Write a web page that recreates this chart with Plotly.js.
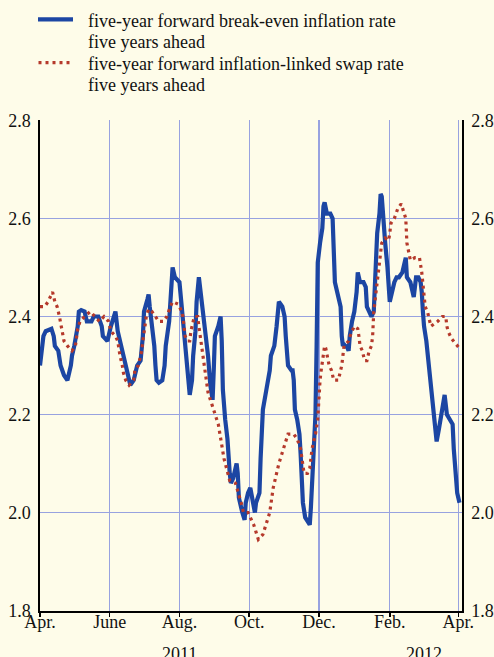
<!DOCTYPE html>
<html>
<head>
<meta charset="utf-8">
<script src="https://cdn.plot.ly/plotly-3.0.1.min.js"></script>
<style>
  html, body { margin: 0; padding: 0; background: #fefce9; }
  #chart { width: 494px; height: 657px; }
</style>
</head>
<body>
<div id="chart"></div>
<script>
// ---- data ----
const breakEvenDates = [
  "2011-04-01","2011-04-04","2011-04-06","2011-04-11","2011-04-13","2011-04-14","2011-04-17","2011-04-19","2011-04-22","2011-04-25",
  "2011-04-28","2011-04-29","2011-05-01","2011-05-04","2011-05-05","2011-05-07","2011-05-10","2011-05-12","2011-05-16","2011-05-18",
  "2011-05-22","2011-05-25","2011-05-26","2011-05-30","2011-06-02","2011-06-06","2011-06-08","2011-06-11","2011-06-14","2011-06-19",
  "2011-06-22","2011-06-25","2011-06-28","2011-06-30","2011-07-01","2011-07-04","2011-07-05","2011-07-06","2011-07-08","2011-07-10",
  "2011-07-11","2011-07-12","2011-07-14","2011-07-17","2011-07-19","2011-07-20","2011-07-23","2011-07-25","2011-07-26","2011-07-28",
  "2011-08-01","2011-08-03","2011-08-05","2011-08-07","2011-08-09","2011-08-10","2011-08-12","2011-08-13","2011-08-15","2011-08-16",
  "2011-08-18","2011-08-19","2011-08-21","2011-08-22","2011-08-24","2011-08-26","2011-08-28","2011-08-30","2011-08-31","2011-09-01",
  "2011-09-04","2011-09-06","2011-09-07","2011-09-08","2011-09-10","2011-09-12","2011-09-14","2011-09-15","2011-09-17","2011-09-20",
  "2011-09-21","2011-09-22","2011-09-25","2011-09-27","2011-09-28","2011-09-30","2011-10-02","2011-10-04","2011-10-06","2011-10-07",
  "2011-10-10","2011-10-11","2011-10-13","2011-10-16","2011-10-19","2011-10-20","2011-10-23","2011-10-25","2011-10-26","2011-10-27",
  "2011-10-30","2011-11-01","2011-11-02","2011-11-04","2011-11-07","2011-11-08","2011-11-09","2011-11-10","2011-11-12","2011-11-14",
  "2011-11-15","2011-11-16","2011-11-17","2011-11-19","2011-11-21","2011-11-23","2011-11-24","2011-11-25","2011-11-26","2011-11-28",
  "2011-11-29","2011-11-30","2011-12-02","2011-12-04","2011-12-05","2011-12-06","2011-12-08","2011-12-11","2011-12-13","2011-12-14",
  "2011-12-15","2011-12-17","2011-12-20","2011-12-21","2011-12-22","2011-12-23","2011-12-26","2011-12-27","2011-12-28","2011-12-30",
  "2012-01-01","2012-01-03","2012-01-04","2012-01-06","2012-01-09","2012-01-11","2012-01-12","2012-01-14","2012-01-16","2012-01-18",
  "2012-01-20","2012-01-21","2012-01-23","2012-01-24","2012-01-25","2012-01-26","2012-01-28","2012-01-30","2012-01-31","2012-02-01",
  "2012-02-03","2012-02-05","2012-02-07","2012-02-09","2012-02-12","2012-02-15","2012-02-16","2012-02-19","2012-02-21","2012-02-22",
  "2012-02-24","2012-02-26","2012-02-28","2012-02-29","2012-03-01","2012-03-02","2012-03-04","2012-03-06","2012-03-08","2012-03-10",
  "2012-03-12","2012-03-13","2012-03-15","2012-03-18","2012-03-20","2012-03-22","2012-03-25","2012-03-27","2012-03-28","2012-03-30",
  "2012-03-31","2012-04-02"
];
const breakEvenRate = [
  2.30,2.36,2.37,2.375,2.36,2.34,2.33,2.30,2.28,2.27,
  2.30,2.32,2.34,2.38,2.41,2.413,2.41,2.39,2.39,2.40,
  2.40,2.38,2.36,2.35,2.38,2.41,2.37,2.336,2.31,2.26,
  2.27,2.30,2.31,2.36,2.41,2.435,2.445,2.42,2.38,2.34,
  2.30,2.27,2.265,2.27,2.30,2.34,2.39,2.45,2.50,2.48,
  2.47,2.42,2.37,2.33,2.28,2.24,2.27,2.32,2.37,2.43,
  2.48,2.46,2.43,2.40,2.36,2.32,2.26,2.23,2.29,2.36,
  2.38,2.40,2.35,2.25,2.19,2.15,2.08,2.06,2.07,2.10,
  2.08,2.03,2.00,1.985,2.02,2.04,2.05,2.02,2.00,2.02,
  2.04,2.11,2.21,2.25,2.29,2.32,2.34,2.38,2.42,2.43,
  2.42,2.40,2.36,2.30,2.29,2.29,2.27,2.21,2.19,2.16,
  2.12,2.06,2.02,1.99,1.98,1.975,2.01,2.06,2.13,2.20,
  2.34,2.51,2.55,2.58,2.625,2.633,2.61,2.61,2.60,2.54,
  2.47,2.45,2.42,2.36,2.34,2.343,2.336,2.33,2.36,2.39,
  2.41,2.45,2.49,2.47,2.47,2.46,2.42,2.41,2.40,2.41,
  2.52,2.57,2.61,2.65,2.645,2.60,2.55,2.50,2.46,2.43,
  2.45,2.47,2.48,2.48,2.49,2.52,2.48,2.47,2.45,2.44,
  2.48,2.48,2.47,2.45,2.41,2.38,2.35,2.30,2.25,2.20,
  2.16,2.145,2.17,2.21,2.24,2.20,2.19,2.18,2.13,2.06,
  2.04,2.02
];

const swapDates = [
  "2011-04-01","2011-04-05","2011-04-08","2011-04-12","2011-04-14","2011-04-16","2011-04-18","2011-04-19","2011-04-20","2011-04-22",
  "2011-04-25","2011-04-29","2011-05-02","2011-05-03","2011-05-04","2011-05-06","2011-05-10","2011-05-15","2011-05-19","2011-05-23",
  "2011-05-27","2011-05-31","2011-06-02","2011-06-06","2011-06-08","2011-06-09","2011-06-10","2011-06-12","2011-06-13","2011-06-15",
  "2011-06-18","2011-06-22","2011-06-23","2011-06-26","2011-06-28","2011-06-29","2011-06-30","2011-07-01","2011-07-02","2011-07-03",
  "2011-07-05","2011-07-08","2011-07-11","2011-07-14","2011-07-18","2011-07-21","2011-07-24","2011-07-26","2011-07-31","2011-08-03",
  "2011-08-04","2011-08-05","2011-08-06","2011-08-08","2011-08-10","2011-08-11","2011-08-12","2011-08-14","2011-08-17","2011-08-18",
  "2011-08-26","2011-08-31","2011-09-04","2011-09-09","2011-09-14","2011-09-19","2011-09-21","2011-09-24","2011-09-26","2011-09-30",
  "2011-10-02","2011-10-05","2011-10-07","2011-10-09","2011-10-13","2011-10-15","2011-10-19","2011-10-22","2011-10-27","2011-10-31",
  "2011-11-04","2011-11-09","2011-11-12","2011-11-15","2011-11-18","2011-11-21","2011-11-23","2011-11-25","2011-11-28","2011-11-30",
  "2011-12-01","2011-12-02","2011-12-03","2011-12-04","2011-12-05","2011-12-06","2011-12-07","2011-12-08","2011-12-10","2011-12-12",
  "2011-12-14","2011-12-18","2011-12-20","2011-12-21","2011-12-22","2011-12-23","2011-12-27","2011-12-29","2012-01-01","2012-01-04",
  "2012-01-05","2012-01-06","2012-01-08","2012-01-10","2012-01-12","2012-01-14","2012-01-16","2012-01-17","2012-01-18","2012-01-20",
  "2012-01-22","2012-01-24","2012-01-25","2012-01-28","2012-01-31","2012-02-01","2012-02-02","2012-02-05","2012-02-08","2012-02-11",
  "2012-02-14","2012-02-15","2012-02-16","2012-02-19","2012-02-23","2012-02-27","2012-02-29","2012-03-02","2012-03-03","2012-03-05",
  "2012-03-08","2012-03-11","2012-03-14","2012-03-18","2012-03-21","2012-03-22","2012-03-23","2012-03-26","2012-03-31","2012-04-02"
];
const swapRate = [
  2.42,2.42,2.43,2.45,2.43,2.42,2.40,2.385,2.37,2.35,
  2.34,2.33,2.34,2.36,2.375,2.39,2.40,2.41,2.40,2.39,
  2.40,2.39,2.37,2.36,2.35,2.33,2.32,2.30,2.285,2.27,
  2.26,2.27,2.29,2.30,2.32,2.33,2.35,2.37,2.38,2.40,
  2.415,2.41,2.40,2.39,2.39,2.40,2.42,2.43,2.425,2.41,
  2.40,2.38,2.36,2.35,2.35,2.37,2.38,2.40,2.40,2.38,
  2.245,2.21,2.18,2.11,2.065,2.06,2.045,2.02,2.00,2.00,
  1.99,1.975,1.96,1.945,1.955,1.97,2.00,2.05,2.10,2.13,
  2.16,2.16,2.15,2.13,2.08,2.08,2.09,2.13,2.16,2.19,
  2.24,2.27,2.29,2.31,2.32,2.34,2.335,2.32,2.30,2.29,
  2.27,2.27,2.29,2.30,2.32,2.34,2.35,2.365,2.38,2.375,
  2.36,2.34,2.33,2.31,2.31,2.33,2.34,2.36,2.41,2.45,
  2.49,2.52,2.55,2.56,2.555,2.57,2.59,2.60,2.62,2.63,
  2.61,2.60,2.55,2.515,2.52,2.52,2.49,2.44,2.42,2.41,
  2.38,2.385,2.39,2.40,2.40,2.38,2.37,2.355,2.34,2.335
];

const monthTicks = ["2011-04-01","2011-06-01","2011-08-01","2011-10-01","2011-12-01","2012-02-01","2012-04-01"];
const monthLabels = ["Apr.","June","Aug.","Oct.","Dec.","Feb.","Apr."];
const yearLabels = ["2011","2012"];
const yearLabelDates = ["2011-08-01","2012-03-02"];
const yTicks = [1.8, 2.0, 2.2, 2.4, 2.6, 2.8];
const yTickLabels = ["1.8","2.0","2.2","2.4","2.6","2.8"];
const seriesNames = [
  ["five-year forward break-even inflation rate", "five years ahead"],
  ["five-year forward inflation-linked swap rate", "five years ahead"]
];

// ---- styles & geometry ----
const W = 494, H = 657;
const M = { l: 40, r: 32, t: 120, b: 46 };
const PW = W - M.l - M.r, PH = H - M.t - M.b;
const px2x = px => (px - M.l) / PW;          // pixel -> paper x
const py2y = py => (H - M.b - py) / PH;      // pixel -> paper y

const BG = "#fefce9";
const GRID = "#98a2e0";
const FONT = "Liberation Serif, Times New Roman, serif";
const BLUE = "#1c46a3";
const RED = "#b5392b";
const blueLine = { color: BLUE, width: 4.2 };
const redLine = { color: RED, width: 3.2, dash: "3px,4px" };

const traces = [
  { x: breakEvenDates, y: breakEvenRate, type: "scatter", mode: "lines",
    name: seriesNames[0].join(" "), line: Object.assign({}, blueLine), hoverinfo: "skip", showlegend: false },
  { x: swapDates, y: swapRate, type: "scatter", mode: "lines",
    name: seriesNames[1].join(" "), line: Object.assign({}, redLine), hoverinfo: "skip", showlegend: false },
  { x: [null], y: [null], yaxis: "y2", type: "scatter", mode: "lines",
    showlegend: false, hoverinfo: "skip" }
];

// 0.2 units = 98 px, gridlines on pixel centres
const PX_PER_UNIT = 490;
const yTop = 2.8 + 0.5 / PX_PER_UNIT;
const yRange = [yTop - PH / PX_PER_UNIT, yTop];
const tickFont = { family: FONT, size: 18, color: "#111" };

// legend (drawn as shapes + text)
const legendTextRows = [20.5, 42, 63.5, 85];
const legendLines = [seriesNames[0][0], seriesNames[0][1], seriesNames[1][0], seriesNames[1][1]];
const legendAnn = legendLines.map((t, i) => ({
  text: t, xref: "paper", yref: "paper",
  x: px2x(86), y: py2y(legendTextRows[i]), xanchor: "left", yanchor: "middle",
  showarrow: false, font: tickFont
}));
const legendShapes = [
  { type: "line", xref: "paper", yref: "paper",
    x0: px2x(38), x1: px2x(73), y0: py2y(19.3), y1: py2y(19.3), line: Object.assign({}, blueLine) },
  { type: "line", xref: "paper", yref: "paper",
    x0: px2x(38.5), x1: px2x(73), y0: py2y(62.7), y1: py2y(62.7), line: Object.assign({}, redLine) }
];

const yearAnn = yearLabels.map((t, i) => ({
  text: t, x: yearLabelDates[i], xref: "x",
  y: py2y(642), yref: "paper", yanchor: "top", xanchor: "center",
  showarrow: false, font: tickFont
}));

const layout = {
  width: W, height: H,
  paper_bgcolor: BG, plot_bgcolor: BG,
  margin: { l: M.l, r: M.r, t: M.t, b: M.b, pad: 0, autoexpand: false },
  font: { family: FONT, size: 18, color: "#111" },
  showlegend: false,
  xaxis: {
    type: "date",
    range: ["2011-04-01", "2012-04-04 04:48"],
    tickmode: "array", tickvals: monthTicks, ticktext: monthLabels,
    showgrid: true, gridcolor: GRID, gridwidth: 1.3,
    showline: true, linecolor: "#000", linewidth: 1.6,
    ticks: "outside", ticklen: 4, tickwidth: 1.5, tickcolor: "#000",
    ticklabelstandoff: -10,
    tickfont: tickFont, zeroline: false, fixedrange: true
  },
  yaxis: {
    range: yRange,
    tickmode: "array", tickvals: yTicks, ticktext: yTickLabels,
    showgrid: true, gridcolor: GRID, gridwidth: 1.3,
    showline: true, linecolor: "#000", linewidth: 1.6,
    ticks: "", ticklabelstandoff: 4,
    tickfont: tickFont, zeroline: false, fixedrange: true
  },
  yaxis2: {
    range: yRange, overlaying: "y", side: "right", anchor: "x",
    tickmode: "array", tickvals: yTicks, ticktext: yTickLabels,
    showgrid: false,
    showline: true, linecolor: "#000", linewidth: 1.6,
    ticks: "", ticklabelstandoff: 4,
    tickfont: tickFont, zeroline: false, fixedrange: true
  },
  shapes: legendShapes,
  annotations: legendAnn.concat(yearAnn)
};

Plotly.newPlot("chart", traces, layout, { staticPlot: true, displayModeBar: false });
</script>
</body>
</html>
